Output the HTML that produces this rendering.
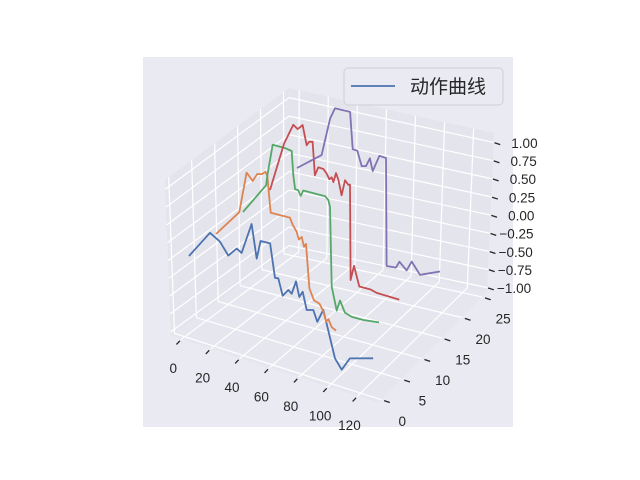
<!DOCTYPE html>
<html><head><meta charset="utf-8"><style>
html,body{margin:0;padding:0;background:#fff;}
svg{display:block;}
text{font-family:"Liberation Sans","DejaVu Sans",sans-serif;}
</style></head>
<body>
<svg id="chart" width="640" height="480" viewBox="0 0 640 480" xmlns="http://www.w3.org/2000/svg">
<rect x="0" y="0" width="640" height="480" fill="#ffffff"/>
<rect x="143" y="57" width="370" height="370" fill="#eaeaf2"/>
<g id="panes"></g>
<g id="grid"></g>
<g id="ticks"></g>
<g id="series"></g>
<g id="legend">
<rect x="344" y="68" width="159" height="37" rx="4" fill="#eaeaf2" fill-opacity="0.8" stroke="#cfcfd6" stroke-width="1"/>
<line x1="351" y1="86" x2="395" y2="86" stroke="#4c72b0" stroke-width="1.8"/>
<text x="410" y="93" font-size="19" fill="#262626" style='font-family:"Liberation Sans","Noto Sans CJK SC",sans-serif'>动作曲线</text>
</g>
</svg>
<script>
// ---- data ----
const seriesY = [0, 5, 10, 15, 20];
const seriesColors = ["#4c72b0", "#dd8452", "#55a868", "#c44e52", "#8172b3"];
const xBlue = [0,14.5,21.4,27.1,32.9,36.3,43.2,46.7,49.4,55.9,59.3,61.6,64.6,68.5,70.8,73.8,76.1,78.4,81.2,85.7,88.5,92.6,94.9,100.7,105.3,111,127];
const zBlue = [0,0.43,0.35,0.19,0.33,0.29,0.75,0.28,0.55,0.56,0.09,0.1,-0.13,-0.02,-0.06,0.14,-0.07,0.02,-0.22,-0.19,-0.34,-0.14,-0.32,-0.78,-0.91,-0.71,-0.6];
const xOrange = [0,16.1,21.1,25.3,28.5,31.5,34,35.4,37.7,51,52.9,55.6,57.2,59.1,60.7,62.1,64.4,67.6,71.3,74,75.9,77.5,79.8,82.8];
const zOrange = [0,0.42,1.02,0.93,1.05,1.07,1.12,1.07,0.56,0.58,0.49,0.41,0.31,0.36,0.23,0.28,-0.34,-0.49,-0.51,-0.6,-0.74,-0.69,-0.79,-0.82];
const xGreen = [0,15.9,16.8,20.5,29,33.6,34.7,35.9,38.1,39.8,41.6,56.6,58.8,60,61.2,64.6,66.9,70.3,75,83,93.8];
const zGreen = [0,0.49,0.64,1.1,1.11,1.1,0.76,0.57,0.57,0.5,0.59,0.61,0.57,0.48,-0.65,-0.97,-0.81,-0.96,-0.99,-0.98,-0.94];
const xRed = [0,9.7,16.1,19.1,22.5,25.3,26.9,29.4,31,33.3,36.8,39.1,40.9,42.5,43.7,45.5,47.1,49.4,51.7,54,55.2,55.6,57.9,61.6,69.4,73.6,89.2];
const zRed = [0,0.73,1.04,1.0,1.08,0.81,0.87,0.89,0.42,0.55,0.55,0.5,0.43,0.47,0.41,0.55,0.47,0.26,0.49,0.44,0.45,-0.91,-0.69,-0.96,-0.95,-0.97,-0.96];
const xPurple = [0,17,22.8,26.2,36.6,38.4,41.6,44.6,47.6,50.3,52.2,56.8,61.4,61.8,68.3,70.6,75.6,79.1,84.8,98.6];
const zPurple = [0,0.3,0.86,1.03,1.05,0.53,0.53,0.33,0.35,0.48,0.31,0.56,0.56,-0.98,-0.96,-0.86,-0.95,-0.8,-0.95,-0.81];
const xTicks = [0,20,40,60,80,100,120];
const yTicks = [0,5,10,15,20,25];
const zTicks = [-1,-0.75,-0.5,-0.25,0,0.25,0.5,0.75,1];
const zTickLabels = ["\u22121.00","\u22120.75","\u22120.50","\u22120.25","0.00","0.25","0.50","0.75","1.00"];

// ---- axes geometry ----
const XMIN=-7, XMAX=134, YMIN=-0.8, YMAX=26.2, ZMIN=-1.06, ZMAX=1.13;
const L=[171,336], Lt=[165,180], B=[289,250], Bt=[289,88], R=[487,292], Rt=[494,133], F=[378,403];
const NS="http://www.w3.org/2000/svg";
function bil(p00,p10,p11,p01,u,v){
  return [(1-u)*(1-v)*p00[0]+u*(1-v)*p10[0]+u*v*p11[0]+(1-u)*v*p01[0],
          (1-u)*(1-v)*p00[1]+u*(1-v)*p10[1]+u*v*p11[1]+(1-u)*v*p01[1]];
}
const fx=x=>(x-XMIN)/(XMAX-XMIN), fy=y=>(y-YMIN)/(YMAX-YMIN), fz=z=>(z-ZMIN)/(ZMAX-ZMIN);
function leftWall(y,z){return bil(L,B,Bt,Lt,fy(y),fz(z));}
function rightWall(x,z){return bil(B,R,Rt,Bt,fx(x),fz(z));}
function floorPt(x,y){return bil(L,F,R,B,fx(x),fy(y));}
function proj(x,y,z){return [189+1.45*x+5.4*y, 256+0.475*x-4.4*y-70*z];}

function mk(tag,attrs,parent){const e=document.createElementNS(NS,tag);for(const k in attrs)e.setAttribute(k,attrs[k]);parent.appendChild(e);return e;}
const panes=document.getElementById('panes'), grid=document.getElementById('grid'), ticks=document.getElementById('ticks'), series=document.getElementById('series');
const pts=a=>a.map(p=>p[0].toFixed(1)+','+p[1].toFixed(1)).join(' ');

let p;
p=mk('polygon',{points:pts([L,B,Bt,Lt]),fill:'#e4e4ec'},panes);


p=mk('polygon',{points:pts([B,R,Rt,Bt]),fill:'#e4e4ec'},panes);


p=mk('polygon',{points:pts([L,F,R,B]),fill:'#e6e6ee'},panes);



function gl(a,b,name){const e=mk('line',{x1:a[0],y1:a[1],x2:b[0],y2:b[1],stroke:'#ffffff','stroke-width':1.2},grid);
  
  }
yTicks.forEach(y=>{gl(leftWall(y,ZMIN),leftWall(y,ZMAX),'left-grid-y');gl(floorPt(XMIN,y),floorPt(XMAX,y),'floor-grid-y');});
zTicks.forEach(z=>{gl(leftWall(YMIN,z),leftWall(YMAX,z),'left-grid-z');gl(rightWall(XMIN,z),rightWall(XMAX,z),'back-grid-z');});
xTicks.forEach(x=>{gl(rightWall(x,ZMIN),rightWall(x,ZMAX),'back-grid-x');gl(floorPt(x,YMIN),floorPt(x,YMAX),'floor-grid-x');});

function tk(a,d,s0,s1,name){const e=mk('line',{x1:a[0]+d[0]*s0,y1:a[1]+d[1]*s0,x2:a[0]+d[0]*s1,y2:a[1]+d[1]*s1,stroke:'#262626','stroke-width':1.3},ticks);
  
  }
function lbl(x,y,s,anchor,name){const e=mk('text',{x:x,y:y,'font-size':13.5,fill:'#262626','text-anchor':anchor,'dominant-baseline':'central'},ticks);e.textContent=s;
  
  }
xTicks.forEach(x=>{const q=floorPt(x,YMIN);tk(q,[-0.69,0.73],2,7,'x-tick');lbl(q[0]-8,q[1]+29,String(x),'middle','x-tick-label');});
yTicks.forEach(y=>{const q=floorPt(XMAX,y);tk(q,[0.95,0.31],3,9,'y-tick');lbl(q[0]+21,q[1]+22,String(y),'middle','y-tick-label');});
zTicks.forEach((z,i)=>{const q=rightWall(XMAX,z);tk(q,[0.95,0.31],1,7,'z-tick');lbl(q[0]+44,q[1]+1,zTickLabels[i],'end','z-tick-label');});

const seriesX=[xBlue,xOrange,xGreen,xRed,xPurple], seriesZ=[zBlue,zOrange,zGreen,zRed,zPurple];
const seriesNames=['series-line-1','series-line-2','series-line-3','series-line-4','series-line-5'];
seriesX.forEach((xs,k)=>{
  const ps=xs.map((x,i)=>proj(x,seriesY[k],seriesZ[k][i]));
  const e=mk('polyline',{points:pts(ps),fill:'none',stroke:seriesColors[k],'stroke-width':1.8,'stroke-linejoin':'round'},series);
  
  
});
</script>
</body></html>
